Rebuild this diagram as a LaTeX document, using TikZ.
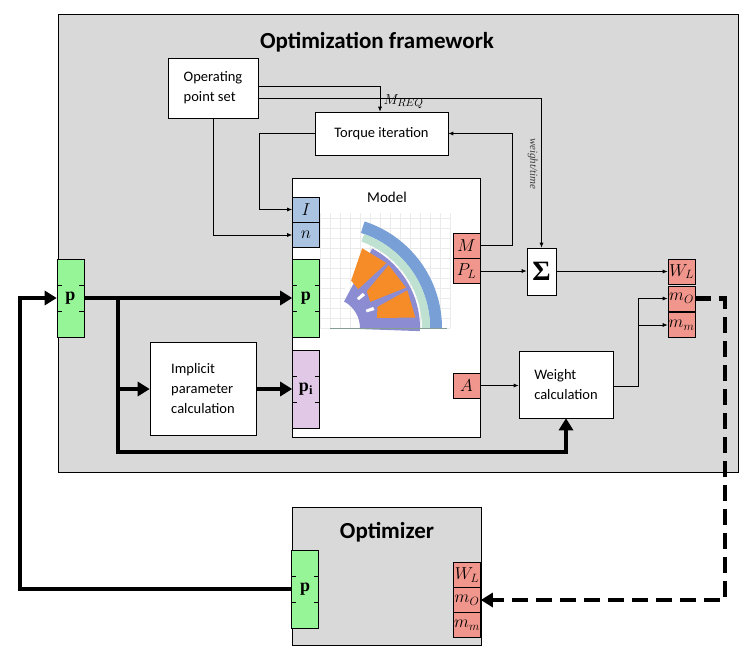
\documentclass[tikz,border=0pt]{standalone}
\usepackage{fontspec}
\setmainfont{Carlito}
\newfontfamily\serif{Liberation Serif}
\usepackage{amsmath}
\usetikzlibrary{positioning, arrows.meta}

\definecolor{frame}{RGB}{217,217,217}
\definecolor{portred}{RGB}{240,150,140}
\definecolor{portblue}{RGB}{170,195,225}
\definecolor{portgreen}{RGB}{150,245,150}
\definecolor{portpink}{RGB}{225,200,230}
\definecolor{statblue}{RGB}{120,160,215}
\definecolor{statgreen}{RGB}{190,225,210}
\definecolor{rotpurple}{RGB}{140,140,210}
\definecolor{coil}{RGB}{245,140,40}

\tikzset{
  blk/.style={draw, fill=white, line width=0.6pt, align=left, font=\fontsize{14.5}{20}\selectfont},
  port/.style={draw, line width=0.6pt, minimum width=27pt, minimum height=25pt, inner sep=0pt, font=\fontsize{17}{17}\selectfont},
  pport/.style={port, fill=portgreen, minimum height=78pt, font=\fontsize{18}{18}\selectfont\serif\bfseries},
  sig/.style={-{Latex[length=5pt,width=4pt]}, line width=0.7pt},
  big/.style={-{Triangle[length=12pt,width=14pt]}, line width=4.5pt},
}

\begin{document}
\begin{tikzpicture}[x=1pt, y=-1pt]
  \useasboundingbox (0,0) rectangle (754,658);

  % frames
  \draw[fill=frame, line width=0.8pt] (58,14) rectangle (738,472);
  \node[font=\fontsize{23}{23}\selectfont\bfseries] at (377,42) {Optimization framework};
  \draw[fill=frame, line width=0.8pt] (292,507) rectangle (481,645);
  \node[font=\fontsize{23}{23}\selectfont\bfseries] at (387,532) {Optimizer};

  % blocks
  \node[blk, minimum width=90pt, minimum height=60pt] (ops) at (213,88) {Operating\\point set};
  \node[blk, align=center, minimum width=133pt, minimum height=43pt] (torque) at (381.5,133.5) {Torque iteration};
  \draw[fill=white, line width=0.6pt] (292,178) rectangle (480,437);
  \node[font=\fontsize{15}{15}\selectfont] at (387,197) {Model};
  \node[blk, minimum width=106pt, minimum height=93pt] (impl) at (203,389) {Implicit\\parameter\\calculation};
  \node[blk, minimum width=94pt, minimum height=67pt] (wcalc) at (566,384.5) {Weight\\calculation};
  \node[draw, fill=white, line width=0.6pt, minimum width=29pt, minimum height=47pt, font=\fontsize{28}{28}\selectfont\serif\bfseries] (sum) at (541.5,271.5) {Σ};

  % motor sketch
  \begin{scope}[shift={(330,328)}]
    \draw[black!8, step=10pt] (-10,0) grid (120,-115);
    \fill[statblue] (0:100) arc[start angle=0, end angle=-72, radius=100] -- (-72:112) arc[start angle=-72, end angle=0, radius=112] -- cycle;
    \fill[statgreen] (0:92) arc[start angle=0, end angle=-70, radius=92] -- (-70:100) arc[start angle=-70, end angle=0, radius=100] -- cycle;
    \fill[rotpurple] (2:30) arc[start angle=2, end angle=-62, radius=30] -- (-62:90) arc[start angle=-62, end angle=2, radius=90] -- cycle;
    \foreach \a in {-12,-33,-54} {
      \fill[coil] (\a:48) -- (\a-12:52) -- (\a-14:86) -- (\a+5:86) -- cycle;
      \fill[white] (\a-15:40) -- (\a-14:48) -- (\a-10:48) -- (\a-11:40) -- cycle;
    }
    \draw[statgreen!70!black, line width=0.8pt] (0,0) -- (117,0);
  \end{scope}

  % model ports
  \node[port, fill=portblue] (I) at (306,209.5) {$I$};
  \node[port, fill=portblue] (n) at (306,235) {$n$};
  \node[pport] (pm) at (306,298) {p};
  \node[pport, fill=portpink] (pi) at (306,389) {p\textsubscript{i}};
  \node[port, fill=portred] (M) at (466.5,245.5) {$M$};
  \node[port, fill=portred] (PL) at (466.5,271) {$P_L$};
  \node[port, fill=portred] (A) at (466.5,385.5) {$A$};

  % framework ports
  \node[pport] (pin) at (70.5,298) {p};
  \node[port, fill=portred] (WL) at (681.5,271.5) {$W_L$};
  \node[port, fill=portred] (mO) at (681.5,298.5) {$m_O$};
  \node[port, fill=portred] (mm) at (681.5,325) {$m_m$};

  % optimizer ports
  \node[pport] (popt) at (305,589) {p};
  \node[port, fill=portred] (oWL) at (467,575) {$W_L$};
  \node[port, fill=portred] (omO) at (467,600) {$m_O$};
  \node[port, fill=portred] (omm) at (467,625) {$m_m$};

  % ticks on p ports
  \foreach \p in {pm, pin, popt, pi} {
    \foreach \f in {-13,13} {
      \draw[line width=0.6pt] ([yshift=\f]\p.west) -- ++(5,0);
      \draw[line width=0.6pt] ([yshift=\f]\p.east) -- ++(-5,0);
    }
  }

  % thin signals
  \draw[sig] ([yshift=-10]ops.east) -| node[pos=0.72, sloped, below, font=\fontsize{11}{11}\selectfont\serif\itshape, text=black!75] {weight/time} (sum.north);
  \draw[sig] ([yshift=2]ops.east) -| node[pos=0.8, right, font=\fontsize{15}{15}\selectfont] {$M_{REQ}$} (torque.north -| 380,0);
  \draw[sig] (ops.south) |- (n.west);
  \draw[sig] (torque.west) -- ++(-55,0) |- (I.west);
  \draw[sig] (M.east) -- ++(32,0) |- (torque.east);
  \draw[sig] (PL.east) -- (PL.east -| sum.west);
  \draw[sig] (sum.east -| sum.east) -- (sum.east -| WL.west);
  \draw[sig] (A.east) -- (wcalc.west |- A.east);
  \coordinate (split) at (638,386);
  \draw[sig] (wcalc.east |- split) -- (split) |- (mO.west);
  \draw[sig] (split |- mm.west) -- (mm.west);

  % parameter flow
  \coordinate (br) at (118,298);
  \draw[big] (pin.east) -- (pm.west);
  \draw[big] (br) -- (118,452) -| (wcalc.south);
  \draw[big] (br |- impl.west) -- (impl.west);
  \draw[big] (impl.east) -- (pi.west);
  \draw[big] (popt.west) -- (20,589) |- (pin.west);
  \draw[big, dashed, dash pattern=on 16pt off 8pt] (mO.east) -- (725,298.5) |- (omO.east);
\end{tikzpicture}
\end{document}
